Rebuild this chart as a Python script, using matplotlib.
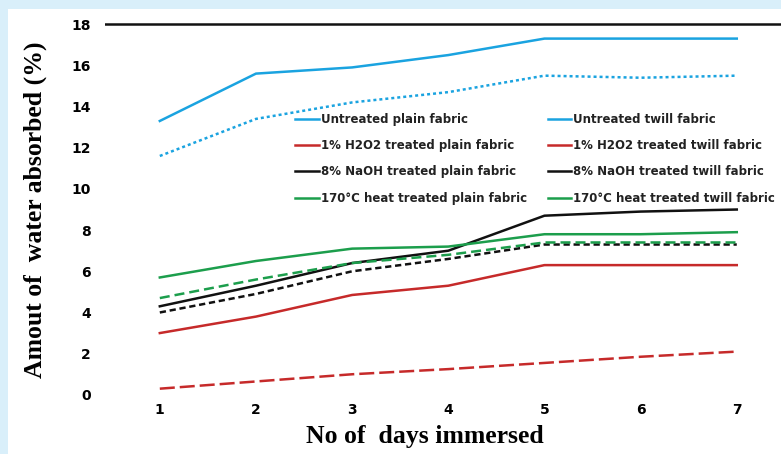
import matplotlib
matplotlib.use("Agg")
import matplotlib.pyplot as plt
from matplotlib.patches import Rectangle

days = [1, 2, 3, 4, 5, 6, 7]

untreated_plain = [13.3, 15.6, 15.9, 16.5, 17.3, 17.3, 17.3]
untreated_twill = [11.6, 13.4, 14.2, 14.7, 15.5, 15.4, 15.5]
h2o2_plain = [3.0, 3.8, 4.85, 5.3, 6.3, 6.3, 6.3]
h2o2_twill = [0.3, 0.65, 1.0, 1.25, 1.55, 1.85, 2.1]
naoh_plain = [4.3, 5.3, 6.4, 7.0, 8.7, 8.9, 9.0]
naoh_twill = [4.0, 4.9, 6.0, 6.6, 7.3, 7.3, 7.3]
heat_plain = [5.7, 6.5, 7.1, 7.2, 7.8, 7.8, 7.9]
heat_twill = [4.7, 5.6, 6.4, 6.8, 7.4, 7.4, 7.4]

labels_plain = ["Untreated plain fabric", "1% H2O2 treated plain fabric",
                "8% NaOH treated plain fabric", "170°C heat treated plain fabric"]
labels_twill = ["Untreated twill fabric", "1% H2O2 treated twill fabric",
                "8% NaOH treated twill fabric", "170°C heat treated twill fabric"]
yticks = [0, 2, 4, 6, 8, 10, 12, 14, 16, 18]

BLUE = "#1aa3e0"
RED = "#c62a2a"
BLACK = "#111111"
GREEN = "#1c9e4c"

fig = plt.figure(figsize=(7.81, 4.54), dpi=100, facecolor="#d9effa")
# white panel inside the light blue frame
fig.patches.append(Rectangle((8 / 781, 0), 1, (454 - 9) / 454,
                             transform=fig.transFigure, facecolor="white",
                             edgecolor="none", zorder=-5))

ax = fig.add_axes([105 / 781, (454 - 400) / 454, 1 - 105 / 781, 382 / 454])
ax.set_facecolor("none")

plain = [untreated_plain, h2o2_plain, naoh_plain, heat_plain]
twill = [untreated_twill, h2o2_twill, naoh_twill, heat_twill]
colors = [BLUE, RED, BLACK, GREEN]
twill_styles = [(0, (1.2, 1.2)), (0, (6, 2)), (0, (2.5, 1.5)), (0, (4, 2))]

handles = []
for vals, c, lab in zip(plain, colors, labels_plain):
    h, = ax.plot(days, vals, color=c, lw=1.8, label=lab)
    handles.append(h)
for vals, c, lab, ls in zip(twill, colors, labels_twill, twill_styles):
    ax.plot(days, vals, color=c, lw=1.8, ls=ls)
    # legend sample is drawn as a plain solid stroke
    h, = ax.plot([], [], color=c, lw=1.8, label=lab)
    handles.append(h)

ax.axhline(18, color=BLACK, lw=1.8)

ax.set_xlim(0.43, 7.46)
ax.set_ylim(-0.25, 18.3)
ax.set_xticks(days)
ax.set_yticks(yticks)
ax.tick_params(axis="both", length=0, labelsize=10)
ax.tick_params(axis="y", pad=10)
ax.tick_params(axis="x", pad=2)
for t in ax.get_xticklabels() + ax.get_yticklabels():
    t.set_fontweight("bold")
for s in ax.spines.values():
    s.set_visible(False)

leg = ax.legend(handles=handles, ncol=2, frameon=False,
                prop={"weight": "bold", "size": 8.5},
                loc="upper left", bbox_to_anchor=(0.266, 0.78),
                handlelength=2.0, handletextpad=0.15, labelspacing=1.13,
                columnspacing=1.75)
for t in leg.get_texts():
    t.set_color("#222222")

fig.text(0.045, (454 - 210) / 454, "Amout of  water absorbed (%)", rotation=90,
         ha="center", va="center", family="Liberation Serif",
         fontweight="bold", fontsize=18.5)
fig.text(425 / 781, (454 - 437) / 454, "No of  days immersed", ha="center",
         va="center", family="Liberation Serif", fontweight="bold", fontsize=18.5)

fig.savefig("out.png", dpi=100, facecolor=fig.get_facecolor())
